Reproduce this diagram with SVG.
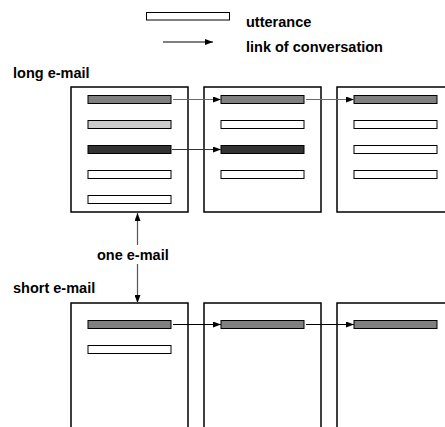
<svg xmlns="http://www.w3.org/2000/svg" width="445" height="427" viewBox="0 0 445 427">
<defs>
<style>
.box{fill:#fff;stroke:#000;stroke-width:1.5}
.bar{stroke:#000;stroke-width:1}
.w{fill:#fff}
.m{fill:#808080}
.l{fill:#cccccc}
.d{fill:#333333}
.t{font-family:"Liberation Sans",Arial,sans-serif;font-weight:bold;font-size:14.5px;fill:#000}
.ln{fill:none;stroke-width:1.2}
</style>
<marker id="ah" markerWidth="8" markerHeight="6" refX="8" refY="3" orient="auto" markerUnits="userSpaceOnUse">
<path d="M0,0 L8,3 L0,6 z" fill="#000"/>
</marker>
</defs>
<rect width="445" height="427" fill="#fff"/>
<g id="legend">
<rect class="bar w" x="146.5" y="12.5" width="83" height="7.5"/>
<text class="t" x="246" y="26.5">utterance</text>
<line x1="163" y1="42" x2="213" y2="42" stroke="#000" stroke-width="1.2" marker-end="url(#ah)"/>
<text class="t" x="246" y="51.5">link of conversation</text>
</g>
<text id="lbl-long" class="t" x="13" y="78">long e-mail</text>
<text id="lbl-short" class="t" x="13" y="293">short e-mail</text>
<text id="lbl-one" class="t" x="97" y="259.5">one e-mail</text>
<g id="long-1">
<rect class="box" x="71" y="87" width="117" height="125"/>
<rect class="bar m" x="88" y="95.5" width="83" height="8"/>
<rect class="bar l" x="88" y="120.5" width="83" height="8"/>
<rect class="bar d" x="88" y="145.5" width="83" height="8"/>
<rect class="bar w" x="88" y="170.5" width="83" height="8"/>
<rect class="bar w" x="88" y="195.5" width="83" height="8"/>
</g>
<g id="long-2">
<rect class="box" x="204" y="87" width="117" height="125"/>
<rect class="bar m" x="221" y="95.5" width="83" height="8"/>
<rect class="bar w" x="221" y="120.5" width="83" height="8"/>
<rect class="bar d" x="221" y="145.5" width="83" height="8"/>
<rect class="bar w" x="221" y="170.5" width="83" height="8"/>
</g>
<g id="long-3">
<rect class="box" x="337" y="87" width="117" height="125"/>
<rect class="bar m" x="354" y="95.5" width="83" height="8"/>
<rect class="bar w" x="354" y="120.5" width="83" height="8"/>
<rect class="bar w" x="354" y="145.5" width="83" height="8"/>
<rect class="bar w" x="354" y="170.5" width="83" height="8"/>
</g>
<g id="short-1">
<rect class="box" x="71" y="303" width="117" height="140"/>
<rect class="bar m" x="88" y="320.5" width="83" height="8"/>
<rect class="bar w" x="88" y="345.5" width="83" height="8"/>
</g>
<g id="short-2">
<rect class="box" x="204" y="303" width="117" height="140"/>
<rect class="bar m" x="221" y="320.5" width="83" height="8"/>
</g>
<g id="short-3">
<rect class="box" x="337" y="303" width="117" height="140"/>
<rect class="bar m" x="354" y="320.5" width="83" height="8"/>
</g>
<g id="connectors">
<line class="ln" x1="173" y1="99.5" x2="221" y2="99.5" stroke="#6a6a6a" marker-end="url(#ah)"/>
<line class="ln" x1="306" y1="99.5" x2="354" y2="99.5" stroke="#6a6a6a" marker-end="url(#ah)"/>
<line class="ln" x1="172" y1="149.5" x2="221" y2="149.5" stroke="#333" marker-end="url(#ah)"/>
<line class="ln" x1="173" y1="324.5" x2="221" y2="324.5" stroke="#000" stroke-width="1" marker-end="url(#ah)"/>
<line class="ln" x1="306" y1="324.5" x2="354" y2="324.5" stroke="#000" stroke-width="1" marker-end="url(#ah)"/>
<line class="ln" x1="137.5" y1="245" x2="137.5" y2="213" stroke="#555" marker-end="url(#ah)"/>
<line class="ln" x1="137.5" y1="264" x2="137.5" y2="303" stroke="#555" marker-end="url(#ah)"/>
</g>
</svg>
